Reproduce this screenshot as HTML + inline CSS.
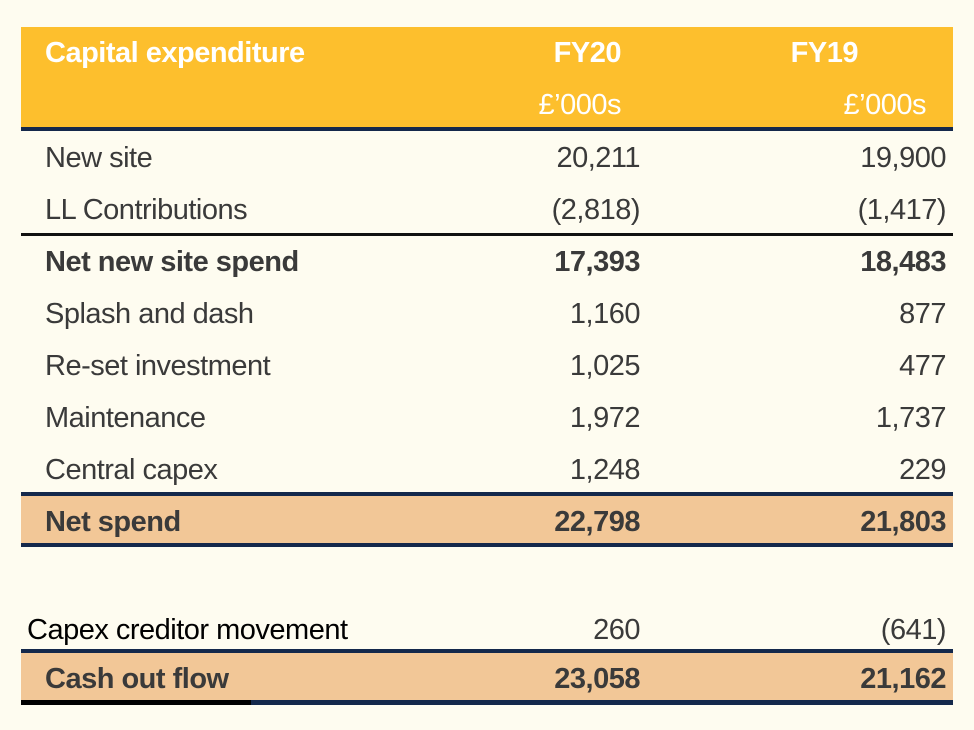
<!DOCTYPE html>
<html><head><meta charset="utf-8">
<style>
html,body{margin:0;padding:0;}
body{width:974px;height:730px;background:#fefcf0;position:relative;overflow:hidden;font-family:"Liberation Sans",sans-serif;color:#3a3a3a;}
.a{position:absolute;}
.t{position:absolute;font-size:29px;letter-spacing:-0.5px;line-height:30px;white-space:nowrap;}
.r1{right:334px;text-align:right;}
.r2{right:28px;text-align:right;}
.b{font-weight:bold;}
.h{color:#fff;font-weight:bold;}
</style></head><body>
<div class="a" style="left:21px;top:27px;width:932px;height:100px;background:#fdbf2d"></div>
<div class="a" style="left:21px;top:127px;width:932px;height:4px;background:#14284b"></div>
<div class="t h" style="left:45px;top:38px;">Capital expenditure</div>
<div class="t h" style="right:353px;top:38px;">FY20</div>
<div class="t h" style="right:116px;top:38px;">FY19</div>
<div class="t" style="right:353px;top:90px;color:#fff;font-weight:normal">£’000s</div>
<div class="t" style="right:48px;top:90px;color:#fff">£’000s</div>

<div class="a" style="left:21px;top:233px;width:932px;height:3px;background:#111"></div>
<div class="a" style="left:21px;top:496px;width:932px;height:47px;background:#f2c797"></div>
<div class="a" style="left:21px;top:492px;width:932px;height:4px;background:#14284b"></div>
<div class="a" style="left:21px;top:543px;width:932px;height:4px;background:#14284b"></div>
<div class="a" style="left:21px;top:653px;width:932px;height:47px;background:#f2c797"></div>
<div class="a" style="left:21px;top:649px;width:932px;height:4px;background:#14284b"></div>
<div class="a" style="left:21px;top:700px;width:230px;height:5px;background:#000"></div>
<div class="a" style="left:251px;top:700px;width:702px;height:5px;background:#14284b"></div>

<div id="rows"></div>
<script>
const labels=["New site","LL Contributions","Net new site spend","Splash and dash","Re-set investment","Maintenance","Central capex","Net spend","Capex creditor movement","Cash out flow"];
const fy20=["20,211","(2,818)","17,393","1,160","1,025","1,972","1,248","22,798","260","23,058"];
const fy19=["19,900","(1,417)","18,483","877","477","1,737","229","21,803","(641)","21,162"];
const tops=[143,195,247,299,351,403,455,507,615,664];
const bold=[0,0,1,0,0,0,0,1,0,1];
const root=document.getElementById('rows');
labels.forEach((l,i)=>{
  const mk=(txt,cls,style,name)=>{
    const d=document.createElement('div');
    d.className='t '+cls+(bold[i]?' b':'');
    d.style.cssText=style+'top:'+tops[i]+'px;';
    d.textContent=txt;
    
    
    root.appendChild(d);
  };
  const slug=l.toLowerCase().replace(/[^a-z]+/g,'-');
  const left = i===8 ? 27 : 45;
  mk(l,'', 'left:'+left+'px;'+(i===8?'color:#000;':''), slug+'-label');
  mk(fy20[i],'r1','', slug+'-fy20');
  mk(fy19[i],'r2','', slug+'-fy19');
});
</script>
</body></html>
